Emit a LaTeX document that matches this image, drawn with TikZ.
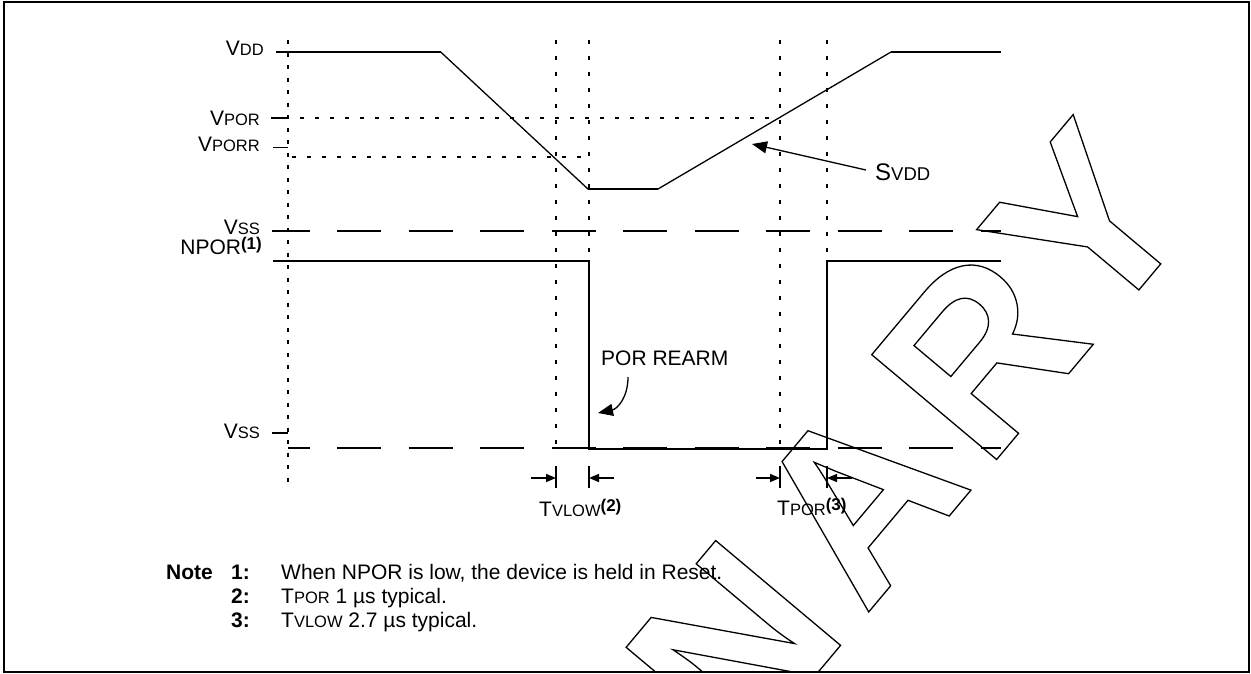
\documentclass[tikz,border=0pt]{standalone}
\usepackage{fontspec}
\setmainfont{Liberation Sans}
\usetikzlibrary{arrows.meta}
\newcommand\sm[1]{{\fontsize{16.5}{16.5}\selectfont #1}}
\newcommand\supb[1]{\raisebox{4.5pt}{\fontsize{17}{17}\selectfont\bfseries #1}}
\newcommand\outl[1]{\special{pdf:literal direct 1 Tr 1.3 w}#1\special{pdf:literal direct 0 Tr}}
\tikzset{
  sigline/.style={line width=2.2pt},
  slopeline/.style={line width=1.3pt},
  vdot/.style={line width=2pt, dash pattern=on 4pt off 12pt},
  vdotb/.style={line width=2pt, dash pattern=on 4pt off 8.5pt},
  hdot/.style={line width=1.6pt, dash pattern=on 3.5pt off 11.5pt},
  vssdash/.style={line width=2pt, dash pattern=on 44pt off 27.5pt},
  bar/.style={line width=2pt},
  marker/.style={line width=1.6pt, -{Triangle[length=10pt,width=8pt]}},
  thinarrow/.style={line width=1.3pt, -{Triangle[length=15pt,width=12pt]}},
  lbl/.style={inner sep=0pt, anchor=base east},
  txt/.style={inner sep=0pt, anchor=base west},
  wm/.style={inner sep=0pt, anchor=base west, rotate=50,
    font=\bfseries\fontsize{237}{237}\selectfont},
}
\begin{document}
\begin{tikzpicture}[x=1pt, y=-1pt, font=\fontsize{21}{25}\selectfont]
\useasboundingbox (0,0) rectangle (1251,673);
\fill[white] (0,0) rectangle (1251,673);
% frame
\draw[line width=2pt] (3.5,2) rectangle (1248.5,671.5);

% watermark
\begin{scope}
\clip (4.5,3) rectangle (1247.5,670.5);
\node[wm] (wmN) at (740.7,764.4) {\outl{N}};
\node[wm] (wmA) at (864.8,616.6) {\outl{A}};
\node[wm] (wmR) at (986.3,471.8) {\outl{R}};
\node[wm] (wmY) at (1098.8,337.7) {\outl{Y}};
\end{scope}

% coordinates
\coordinate (vdd0) at (276,52);
\coordinate (vdd1) at (440.7,52);
\coordinate (vdd2) at (588.3,189.3);
\coordinate (vdd3) at (657.5,189.3);
\coordinate (vdd4) at (891,52);
\coordinate (vdd5) at (1001,52);

\coordinate (g1t) at (288,40);   \coordinate (g1b) at (288,488);
\coordinate (g2t) at (556,40);   \coordinate (g2b) at (556,453);
\coordinate (g3t) at (589,40);   \coordinate (g3b) at (589,453);
\coordinate (g4t) at (780,40);   \coordinate (g4b) at (780,453);
\coordinate (g5t) at (827,40);   \coordinate (g5b) at (827,453);

\coordinate (por0) at (271,118);  \coordinate (por1) at (288,118);
\coordinate (por2) at (300,118);  \coordinate (por3) at (780,118);
\coordinate (porr0) at (273,147.3); \coordinate (porr1) at (288,147.3);
\coordinate (porr2) at (292,157); \coordinate (porr3) at (589,157);

\coordinate (vssA0) at (272,231); \coordinate (vssA1) at (1001,231);
\coordinate (vssB0) at (272,433);   \coordinate (vssB1) at (288,433);
\coordinate (vssB2) at (288,447.7); \coordinate (vssB3) at (1001,447.7);

\coordinate (np0) at (273,261); \coordinate (np1) at (589,261);
\coordinate (np2) at (589,449);   \coordinate (np3) at (827,449);
\coordinate (np4) at (827,261); \coordinate (np5) at (1001,261);

% dotted guides
\draw[vdotb] (g1t) -- (g1b);
\foreach \g in {g2,g3,g4,g5} \draw[vdot] (\g t) -- (\g b);
\draw[hdot] (por2) -- (por3);
\draw[hdot] (porr2) -- (porr3);
\draw[slopeline] (por0) -- (por1);
\draw[slopeline] (porr0) -- (porr1);

% Vss lines
\draw[vssdash, dash phase=6.5pt] (vssA0) -- (vssA1);
\draw[slopeline] (vssB0) -- (vssB1);
\draw[vssdash, dash phase=22.5pt] (vssB2) -- (vssB3);

% VDD
\draw[sigline] (vdd0) -- (vdd1);
\draw[slopeline] (vdd1) -- (vdd2);
\draw[sigline] (vdd2) -- (vdd3);
\draw[slopeline] (vdd3) -- (vdd4);
\draw[sigline] (vdd4) -- (vdd5);

% NPOR
\draw[sigline, line join=miter] (np0) -- (np1) -- (np2) -- (np3) -- (np4) -- (np5);

% timing markers
\foreach \n/\x in {m1/556, m2/589, m3/780, m4/827} {
  \coordinate (\n t) at (\x,466);
  \coordinate (\n b) at (\x,488);
  \coordinate (\n m) at (\x,478);
  \draw[bar] (\n t) -- (\n b);
}
\coordinate (a1) at (531,478);
\coordinate (a2) at (614,478);
\coordinate (a3) at (756,478);
\coordinate (a4) at (852,478);
\draw[marker] (a1) -- (m1m);
\draw[marker] (a2) -- (m2m);
\draw[marker] (a3) -- (m3m);
\draw[marker] (a4) -- (m4m);

% left labels
\node[lbl] (lVDD) at (264,55.5) {V\sm{DD}};
\node[lbl] (lVPOR) at (260,125) {V\sm{POR}};
\node[lbl] (lVPORR) at (260,151) {V\sm{PORR}};
\node[lbl] (lVSS1) at (260,234) {V\sm{SS}};
\node[lbl] (lNPOR) at (262,254) {NPOR\supb{(1)}};
\node[lbl] (lVSS2) at (260,438.5) {V\sm{SS}};

% SVDD annotation
\node[txt, font=\fontsize{24}{28}\selectfont] (lSVDD) at (875,180.7) {S{\fontsize{18.5}{18.5}\selectfont VDD}};
\coordinate (sv0) at (866,170);
\coordinate (sv1) at (752,144);
\draw[thinarrow] (sv0) -- (sv1);

% POR REARM annotation
\node[txt] (lREARM) at (601,365.5) {POR REARM};
\coordinate (ra0) at (628,377);
\coordinate (ra1) at (598,413);
\draw[thinarrow] (ra0) .. controls (628,398) and (617,409) .. (ra1);

% timing labels
\node[txt] (lTVLOW) at (539,516) {T\sm{VLOW}\supb{(2)}};
\node[txt] (lTPOR) at (777,515) {T\sm{POR}\supb{(3)}};

% notes
\node[txt, font=\bfseries\fontsize{21}{25}\selectfont] (nNote) at (166,579.5) {Note};
\node[lbl, font=\bfseries\fontsize{21}{25}\selectfont] (n1) at (250,579.5) {1:};
\node[lbl, font=\bfseries\fontsize{21}{25}\selectfont] (n2) at (250,603.5) {2:};
\node[lbl, font=\bfseries\fontsize{21}{25}\selectfont] (n3) at (250,627.5) {3:};
\node[txt] (t1) at (281,579.5) {When NPOR is low, the device is held in Reset.};
\node[txt] (t2) at (281,603.5) {T\sm{POR} 1 µs typical.};
\node[txt] (t3) at (281,627.5) {T\sm{VLOW} 2.7 µs typical.};
\end{tikzpicture}
\end{document}
